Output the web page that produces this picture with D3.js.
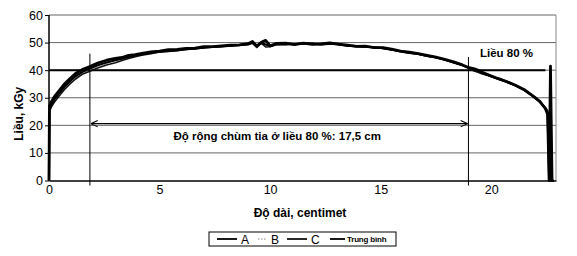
<!DOCTYPE html>
<html>
<head>
<meta charset="utf-8">
<script src="https://cdn.jsdelivr.net/npm/d3@7"></script>
<style>
    body { margin: 0; background: #fff; }
    svg { display: block; font-family: 'Liberation Sans', Arial, sans-serif; }
</style>
</head>
<body>
<div id="chart"></div>
<script>
// positions along the bed, cm
var doDai = [
    0, 0.02, 0.1, 0.25, 0.45, 0.7, 0.95, 1.2, 1.5, 1.85,
    2.2, 2.6, 3.0, 3.3, 3.6, 3.9, 4.2, 4.6, 5.0, 5.4,
    5.8, 6.2, 6.6, 7.0, 7.4, 7.8, 8.2, 8.6, 9.0, 9.2,
    9.4, 9.6, 9.8, 10.0, 10.3, 10.7, 11.1, 11.5, 11.9, 12.3,
    12.7, 13.1, 13.5, 13.9, 14.3, 14.7, 15.1, 15.5, 15.9, 16.3,
    16.7, 17.1, 17.5, 17.9, 18.3, 18.7, 19.0, 19.2, 19.4, 19.6,
    19.9, 20.3, 20.7, 21.1, 21.5, 21.9, 22.2, 22.45, 22.55, 22.62,
    22.68, 22.75, 22.82
];

// dose, kGy
var lieuA = [
    0, 27, 28.5, 30.5, 32.5, 35, 37, 38.8, 40.2, 41.3,
    42.6, 43.6, 44.3, 44.6, 45.4, 45.6, 46.1, 46.6, 46.9, 47.4,
    47.5, 47.9, 48.0, 48.5, 48.5, 48.8, 49.1, 49.2, 49.6, 50.4,
    48.7, 50.1, 50.8, 48.8, 49.7, 49.8, 49.3, 49.8, 49.4, 49.5,
    49.9, 49.4, 49.1, 48.6, 48.7, 48.2, 48.2, 47.6, 46.9, 46.5,
    46.0, 45.4, 44.7, 43.9, 43.0, 41.9, 40.9, 40.6, 40.0, 39.2,
    38.2, 37.0, 35.9, 34.5, 32.9, 30.6, 28.7, 26.0, 24.0, 0,
    41.5, 0, 0
];
var lieuB = [
    0, 25.5, 27, 29, 31, 33.5, 35.5, 37.5, 39, 40.2,
    41.3, 42.4, 43.5, 44.3, 44.5, 45.2, 45.6, 46.4, 46.5, 47.1,
    47.2, 47.4, 48.1, 48.0, 48.5, 48.4, 49.0, 48.9, 49.5, 49.9,
    49.2, 49.6, 48.9, 49.0, 49.1, 49.7, 49.2, 49.7, 49.3, 49.0,
    49.5, 49.1, 48.7, 48.8, 48.3, 48.4, 47.8, 47.3, 46.6, 46.2,
    45.8, 45.1, 44.5, 43.6, 42.7, 41.6, 40.7, 40.0, 39.7, 38.9,
    38.0, 36.8, 35.7, 34.2, 32.6, 30.3, 28.3, 26.6, 25.5, 2,
    0, 0, 0
];
var lieuC = [
    0, 25, 26.5, 28.5, 30.5, 33, 35, 36.8, 38.5, 39.6,
    40.8, 41.9, 42.7, 43.5, 44.2, 44.9, 45.4, 46.0, 46.6, 46.8,
    47.1, 47.5, 47.7, 48.1, 48.3, 48.6, 48.7, 49.1, 49.2, 49.8,
    48.2, 49.8, 48.4, 48.5, 49.3, 49.2, 49.6, 49.4, 49.7, 49.3,
    49.4, 49.4, 48.8, 48.6, 48.4, 48.2, 47.9, 47.3, 46.9, 46.2,
    45.8, 45.1, 44.6, 43.8, 42.7, 41.8, 40.8, 39.8, 39.2, 38.6,
    38.0, 36.8, 35.6, 34.4, 32.8, 30.6, 28.6, 26.4, 25.2, 0,
    30, 0, 0
];
var lieuTB = [
    0, 26, 27.5, 29.5, 31.5, 34, 36, 37.8, 39.3, 40.6,
    41.8, 42.8, 43.6, 44.2, 44.8, 45.3, 45.8, 46.3, 46.7, 47.0,
    47.3, 47.6, 47.9, 48.2, 48.4, 48.6, 48.9, 49.1, 49.4, 50.0,
    48.8, 49.8, 49.3, 48.8, 49.4, 49.5, 49.4, 49.6, 49.5, 49.3,
    49.6, 49.3, 48.9, 48.7, 48.5, 48.3, 48.0, 47.4, 46.8, 46.3,
    45.9, 45.2, 44.6, 43.8, 42.8, 41.8, 40.8, 40.3, 39.9, 39.0,
    38.1, 36.9, 35.8, 34.4, 32.8, 30.5, 28.5, 26.3, 25.0, 0,
    0, 0, 0
];

var seriesNames = ['A', 'B', 'C', 'Trung bình'];
var yTicks = [0, 10, 20, 30, 40, 50, 60];
var xTicks = [0, 5, 10, 15, 20];

// 80% dose level and the beam width markers
var lieu80 = 40;
var lieu80Range = [0, 22.45];
var markers = [{ x: 1.85, top: 46 }, { x: 18.97, top: 44.8 }];
var arrowLevel = 20.6;

var W = 577, H = 256;
var margin = { left: 49, top: 15, right: 21, bottom: 75.5 };
var pw = W - margin.left - margin.right,
    ph = H - margin.top - margin.bottom;

var svg = d3.select('#chart').append('svg')
    .attr('width', W)
    .attr('height', H);

var x = d3.scaleLinear().domain([0, 22.93]).range([0, pw]);
var y = d3.scaleLinear().domain([0, 60]).range([ph, 0]);

var defs = svg.append('defs');
defs.append('marker')
    .attr('id', 'arrowHead')
    .attr('viewBox', '0 0 10 10')
    .attr('refX', 9.5).attr('refY', 5)
    .attr('markerWidth', 8).attr('markerHeight', 8)
    .attr('markerUnits', 'userSpaceOnUse')
    .attr('orient', 'auto-start-reverse')
    .append('path')
    .attr('d', 'M1,1 L9.5,5 L1,9')
    .attr('fill', 'none')
    .attr('stroke', '#000')
    .attr('stroke-width', 1.3);

var g = svg.append('g')
    .attr('transform', 'translate(' + margin.left + ',' + margin.top + ')');

// gridlines + y axis
var yAxis = g.append('g')
    .call(d3.axisLeft(y).tickValues(yTicks).tickSize(4).tickPadding(2));
yAxis.select('.domain').remove();
yAxis.selectAll('text')
    .attr('font-size', 12.5)
    .attr('fill', '#000')
    .attr('font-family', 'Liberation Sans, Arial, sans-serif');

g.append('g')
    .selectAll('line')
    .data(yTicks.filter(function(d) { return d > 0; }))
    .enter()
    .append('line')
    .attr('x1', 0).attr('x2', pw)
    .attr('y1', function(d) { return y(d); })
    .attr('y2', function(d) { return y(d); })
    .attr('stroke', '#666')
    .attr('stroke-width', 1);

// right border
g.append('line')
    .attr('x1', pw).attr('x2', pw)
    .attr('y1', 0).attr('y2', ph)
    .attr('stroke', '#888');

// x axis
var xAxis = g.append('g')
    .attr('transform', 'translate(0,' + ph + ')')
    .call(d3.axisBottom(x).tickValues(xTicks).tickSize(0).tickPadding(5));
xAxis.select('.domain').attr('stroke', '#000').attr('stroke-width', 1.5);
xAxis.selectAll('text')
    .attr('font-size', 12.5)
    .attr('fill', '#000')
    .attr('font-family', 'Liberation Sans, Arial, sans-serif');

g.append('line')
    .attr('x1', 0).attr('x2', 0)
    .attr('y1', 0).attr('y2', ph)
    .attr('stroke', '#000')
    .attr('stroke-width', 1.5);

// 80% line
g.append('line')
    .attr('x1', x(lieu80Range[0])).attr('x2', x(lieu80Range[1]))
    .attr('y1', y(lieu80)).attr('y2', y(lieu80))
    .attr('stroke', '#000')
    .attr('stroke-width', 2);

// beam width markers
g.selectAll('.marker')
    .data(markers)
    .enter()
    .append('line')
    .classed('marker', true)
    .attr('x1', function(d) { return x(d.x); })
    .attr('x2', function(d) { return x(d.x); })
    .attr('y1', function(d) { return y(d.top); })
    .attr('y2', ph + 5)
    .attr('stroke', '#000')
    .attr('stroke-width', 1);

g.append('line')
    .attr('x1', x(markers[0].x) + 1).attr('x2', x(markers[1].x) - 1)
    .attr('y1', y(arrowLevel)).attr('y2', y(arrowLevel))
    .attr('stroke', '#000')
    .attr('stroke-width', 1.3)
    .attr('marker-start', 'url(#arrowHead)')
    .attr('marker-end', 'url(#arrowHead)');

g.append('text')
    .attr('x', (x(markers[0].x) + x(markers[1].x)) / 2 - 2)
    .attr('y', 125)
    .attr('text-anchor', 'middle')
    .attr('font-size', 11.5)
    .attr('font-weight', 'bold')
    .text('Độ rộng chùm tia ở liều 80 %: 17,5 cm');

g.append('text')
    .attr('x', 431)
    .attr('y', 42)
    .attr('font-size', 11.5)
    .attr('font-weight', 'bold')
    .text('Liều 80 %');

// dose curves
var allSeries = [lieuA, lieuB, lieuC, lieuTB];
var styles = [
    { color: '#000', width: 2.8, dash: null },
    { color: '#8a8a8a', width: 1, dash: '1.5,1.5' },
    { color: '#111', width: 1.6, dash: null },
    { color: '#000', width: 2.2, dash: null }
];

var line = d3.line()
    .x(function(d, i) { return x(doDai[i]); })
    .y(function(d) { return y(d); });

[1, 2, 0, 3].forEach(function(k) {
    g.append('path')
        .datum(allSeries[k])
        .attr('fill', 'none')
        .attr('stroke', styles[k].color)
        .attr('stroke-width', styles[k].width)
        .attr('stroke-dasharray', styles[k].dash)
        .attr('stroke-linejoin', 'round')
        .attr('d', line);
});

// axis titles
svg.append('text')
    .attr('transform', 'translate(23,' + (margin.top + ph / 2 + 16) + ') rotate(-90)')
    .attr('text-anchor', 'middle')
    .attr('font-size', 12)
    .attr('font-weight', 'bold')
    .text('Liều, kGy');

svg.append('text')
    .attr('x', 300)
    .attr('y', 217)
    .attr('text-anchor', 'middle')
    .attr('font-size', 12)
    .attr('font-weight', 'bold')
    .text('Độ dài, centimet');

// legend
var legend = svg.append('g').attr('transform', 'translate(209,232)');
legend.append('rect')
    .attr('width', 187).attr('height', 14)
    .attr('fill', '#fff')
    .attr('stroke', '#000');

var legX = [8, 49, 78, 121];
var legLen = [20, 9, 20, 15];
var items = legend.selectAll('.leg')
    .data(seriesNames)
    .enter()
    .append('g')
    .classed('leg', true)
    .attr('transform', function(d, i) { return 'translate(' + legX[i] + ',7)'; });

items.append('line')
    .attr('x1', 0)
    .attr('x2', function(d, i) { return legLen[i]; })
    .attr('stroke', function(d, i) { return styles[i].color; })
    .attr('stroke-width', function(d, i) { return i === 1 ? 1 : 1.8; })
    .attr('stroke-dasharray', function(d, i) { return styles[i].dash; });

items.append('text')
    .attr('x', function(d, i) { return legLen[i] + (i === 3 ? 2 : 4); })
    .attr('y', function(d, i) { return i === 3 ? 3 : 4.5; })
    .attr('font-size', function(d, i) { return i === 3 ? 8 : 12; })
    .attr('font-weight', function(d, i) { return i === 3 ? 'bold' : 'normal'; })
    .attr('letter-spacing', function(d, i) { return i === 3 ? -0.2 : 0; })
    .text(function(d) { return d; });
</script>
</body>
</html>
